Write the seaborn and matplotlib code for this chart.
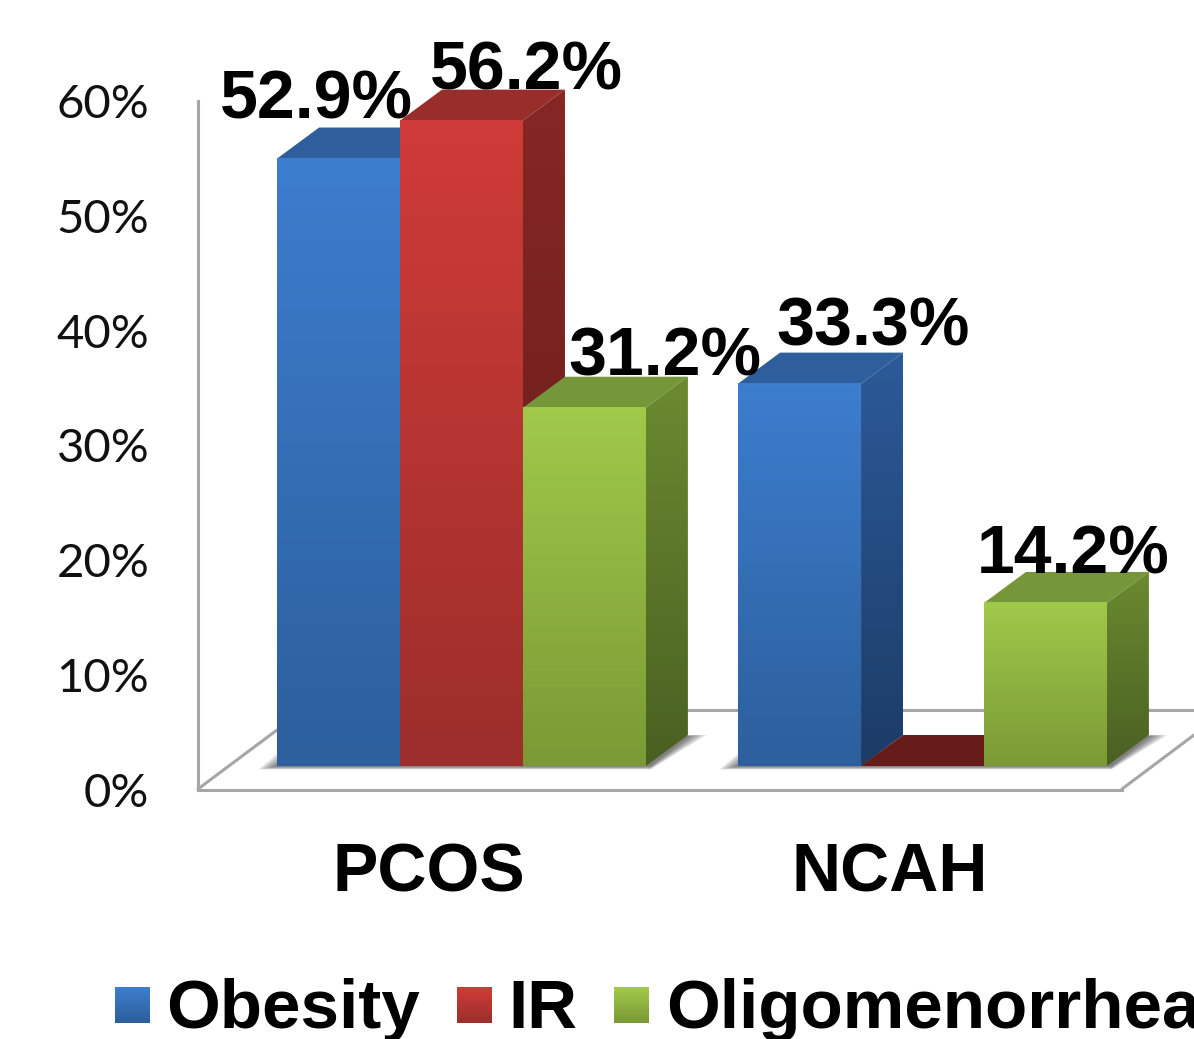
import numpy as np
import pandas as pd
import matplotlib
matplotlib.use('Agg')
import matplotlib.pyplot as plt
import seaborn as sns
from matplotlib.legend_handler import HandlerBase
from matplotlib.patches import Polygon, Rectangle
from matplotlib.colors import to_rgb
from matplotlib.transforms import ScaledTranslation

W, H = 1194, 1039

groups = ['PCOS', 'NCAH']
conditions = ['Obesity', 'IR', 'Oligomenorrhea']
obesity = [52.9, 33.3]
ir = [56.2, 0.0]
oligomenorrhea = [31.2, 14.2]
y_ticks = [0, 10, 20, 30, 40, 50, 60]

df = pd.DataFrame({
    'group': groups * 3,
    'condition': np.repeat(conditions, 2),
    'value': obesity + ir + oligomenorrhea,
})

# top/bottom colours of each face
front = {'Obesity': ('#3d7dce', '#2c5f9c'), 'IR': ('#cf3b38', '#9c2e2b'), 'Oligomenorrhea': ('#a1c94a', '#7a9a35')}
side = {'Obesity': ('#2c5a99', '#1c3c66'), 'IR': ('#862724', '#641c1a'), 'Oligomenorrhea': ('#6b8a30', '#4a6022')}
top = {'Obesity': '#2e5f9c', 'IR': '#982d2a', 'Oligomenorrhea': '#76963a'}
zero_top = '#651c1a'

# label offsets from the bar's front top edge, in pixels (bars ordered by condition, then group)
label_offsets = [(-22, 58), (74, 56), (65, 49), (0, 0), (80, 50), (28, 47)]


def px_axes(left, upper, right, lower):
    return fig.add_axes([left / W, 1 - lower / H, (right - left) / W, (lower - upper) / H])


def gradient(c_top, c_bottom, n=64):
    a, b = np.array(to_rgb(c_top)), np.array(to_rgb(c_bottom))
    return np.linspace(a, b, n)[:, None, :]


class GradientHandle(HandlerBase):
    def create_artists(self, legend, orig_handle, xd, yd, width, height, fontsize, trans):
        c_top, c_bottom = front[orig_handle.get_label()]
        cols = gradient(c_top, c_bottom, 24)[:, 0, :]
        rects = []
        for i, c in enumerate(cols):
            y = -yd - 1.4 + height * (1 - (i + 1) / len(cols))
            rects.append(Rectangle((-xd, y), width, height / len(cols) + 0.3, fc=c, ec='none', transform=trans))
        return rects


sns.set_theme(style='white')
plt.rcParams['font.family'] = ['Liberation Sans', 'DejaVu Sans']

fig = plt.figure(figsize=(W / 100, H / 100), dpi=100, facecolor='white')

# back axes: wall and floor outline with the percent ticks
wall = px_axes(198, 101, 1122, 790)
wall.set_xlim(198, 1122)
wall.set_ylim(0, 60)
wall.set_yticks(y_ticks)
wall.set_yticklabels([f'{t}%' for t in y_ticks], family='Lato', fontsize=34, color='#111111')
wall.tick_params(axis='y', length=0, pad=35)
wall.set_xticks([])
for s in ['top', 'right']:
    wall.spines[s].set_visible(False)
for s in ['left', 'bottom']:
    wall.spines[s].set_color('#a6a6a6')
    wall.spines[s].set_linewidth(2.2)
wall.patch.set_alpha(0)

ax = px_axes(231, 77, 1153, 766)
ax.patch.set_alpha(0)
sns.barplot(data=df, x='group', y='value', hue='condition', order=groups, hue_order=conditions,
            palette=[v[0] for v in front.values()], width=0.8, gap=0, saturation=1, ax=ax, legend=False)
ax.set_xlim(-0.5, 1.5)
ax.set_ylim(0, 60)
sns.despine(ax=ax, left=True, bottom=True)
ax.set_yticks([])
ax.set_xlabel('')
ax.set_ylabel('')
ax.tick_params(axis='x', length=0, pad=54)
ax.set_xticks(range(len(groups)))
ax.set_xticklabels(groups, fontsize=49, fontweight='bold', color='black')
# the group names sit left of the bar groups in the original
shift = ScaledTranslation(-33 / 100, 0, fig.dpi_scale_trans)
for lab in ax.get_xticklabels():
    lab.set_transform(lab.get_transform() + shift)

# depth of the 3d look, in data units
dx = 42 / 461
dy = 31 / (689 / 60)


# floor lines, px converted into data units of the bar axes
def pxy(x, y):
    return (x - 231) / 461 - 0.5, (766 - y) / (689 / 60)


for p, q in [((198, 789), (277, 730)), ((1122, 789), (1194, 735)), ((290, 710), (1194, 710))]:
    a, b = pxy(*p), pxy(*q)
    ax.plot([a[0], b[0]], [a[1], b[1]], color='#a6a6a6', lw=2.2, clip_on=False, zorder=0.5)

bars = list(ax.patches)
names = [c for c in conditions for _ in groups]

# soft shadows on the floor, one per group
for g in range(len(groups)):
    left_bar = bars[g]
    right_bar = bars[g + 2 * len(groups)]
    x0 = left_bar.get_x()
    x1 = right_bar.get_x() + right_bar.get_width()
    for k in range(1, 7):
        grow = k / 6
        ax.add_patch(Polygon([(x0 - 0.04 * grow, -0.3 * grow), (x1 + 0.01, -0.3 * grow),
                              (x1 + dx + 0.04 * grow, dy), (x0 + 0.01, 1.4 * grow)],
                             fc='#222222', ec='none', alpha=0.13, zorder=1, clip_on=False))

for bar, name in zip(bars, names):
    x0, x1 = bar.get_x(), bar.get_x() + bar.get_width()
    h = bar.get_height()
    bar.set_zorder(3)
    bar.set_edgecolor('none')

    # top face
    ax.add_patch(Polygon([(x0, h), (x1, h), (x1 + dx, h + dy), (x0 + dx, h + dy)],
                         fc=top[name] if h > 0 else zero_top, ec='none', zorder=2))

    if h > 0:
        # side face
        sp = Polygon([(x1, 0), (x1 + dx, dy), (x1 + dx, h + dy), (x1, h)], fc='none', ec='none',
                     transform=ax.transData)
        ax.add_patch(sp)
        im = ax.imshow(gradient(*side[name]), extent=[x1, x1 + dx, 0, h + dy], aspect='auto', zorder=2)
        im.set_clip_path(sp)

        # front face
        ax.imshow(gradient(*front[name]), extent=[x0, x1, 0, h], aspect='auto', zorder=3)

ax.set_xlim(-0.5, 1.5)
ax.set_ylim(0, 60)

for bar, (ox, oy) in zip(bars, label_offsets):
    if bar.get_height() > 0:
        ax.annotate(f'{bar.get_height():.1f}%', (bar.get_x() + bar.get_width() / 2, bar.get_height()),
                    xytext=(ox * 0.72, oy * 0.72), textcoords='offset points', ha='center', va='center',
                    fontsize=49, fontweight='bold', color='black', zorder=5, annotation_clip=False)

handles = [Rectangle((0, 0), 1, 1, label=c) for c in conditions]
fig.legend(handles=handles, labels=conditions, loc='center left', bbox_to_anchor=(115 / W, 1 - 1010 / H),
           ncol=3, frameon=False, prop={'weight': 'bold', 'size': 49.8}, borderpad=0, borderaxespad=0,
           handlelength=0.506, handleheight=0.4, handletextpad=0.24, columnspacing=0.53,
           labelcolor='black', handler_map={Rectangle: GradientHandle()})

fig.savefig('out.png', dpi=100)
